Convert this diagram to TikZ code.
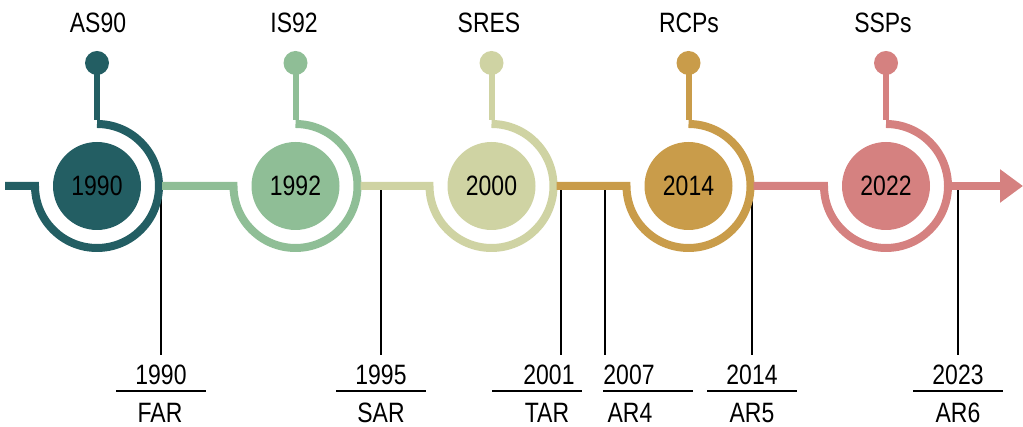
\documentclass[tikz,border=0pt]{standalone}
\usepackage{fontspec}
\setmainfont{Liberation Sans}[FakeStretch=0.82]
\usetikzlibrary{calc,arrows.meta}

\definecolor{stageA}{RGB}{35,94,99}
\definecolor{stageB}{RGB}{143,190,150}
\definecolor{stageC}{RGB}{207,211,163}
\definecolor{stageD}{RGB}{201,156,74}
\definecolor{stageE}{RGB}{213,129,128}

\begin{document}
\begin{tikzpicture}[x=1pt,y=1pt,
  txt/.style={font=\fontsize{28}{30}\selectfont, inner sep=0pt, text=black},
  disc/.style={circle, minimum size=88pt, inner sep=0pt, draw=none,
               font=\fontsize{28}{30}\selectfont, text=black},
  pin/.style={circle, minimum size=24pt, inner sep=0pt, draw=none},
  track/.style={line width=8pt},
  stem/.style={line width=6pt},
  tick/.style={line width=2pt, black},
]
\useasboundingbox (0,0) rectangle (1023,427);

% report ticks, years and names (drawn first, behind the track)
\foreach \k/\x/\ya/\yx/\na/\nx/\ra/\rb/\yr/\rep in {
    1/161/161/161/160/160/116/206/1990/FAR,
    2/381/381/381/381/381/336/426/1995/SAR,
    3/561/549/549/547/547/492/582/2001/TAR,
    4/605/629/629/630/630/603/693/2007/AR4,
    5/752/752/752/752/752/707/797/2014/AR5,
    6/958/958/958/958/958/913/1003/2023/AR6}{
  \coordinate (k\k) at (\x,237);
  \coordinate (kb\k) at (\x,72);
  \draw[tick] (k\k) -- (kb\k);
  \node[txt, anchor=base] (yr\k) at (\ya,42) {\yr};
  \coordinate (rl\k) at (\ra,36);
  \coordinate (rr\k) at (\rb,36);
  \draw[tick] (rl\k) -- (rr\k);
  \node[txt, anchor=base] (rp\k) at (\na,4) {\rep};
}

% stages along the timeline
\coordinate (s1) at (5,241);
\foreach \i/\x/\col/\yr/\lab/\lx [count=\n] in {
    1/97/stageA/1990/AS90/98,
    2/295.5/stageB/1992/IS92/294,
    3/491.5/stageC/2000/SRES/489,
    4/688.5/stageD/2014/RCPs/689,
    5/886/stageE/2022/SSPs/883}{
  \ifnum\i>1
    \pgfmathtruncatemacro\j{\i-1}
    \coordinate (s\i) at ($(d\j.center)+(65,0)$);
  \fi
  \node[disc, fill=\col] (d\i) at (\x,241) {\yr};
  \node[pin, fill=\col] (p\i) at (\x,364) {};
  \node[txt, anchor=base] (t\i) at (\lx,394) {\lab};
  \draw[track, \col] (s\i) -- ($(d\i.center)+(-62,0)$)
    arc[start angle=180, end angle=450, radius=62pt];
  \draw[stem, \col] ($(d\i.center)+(0,66)$) -- (p\i.center);
}

% arrow leaving the last stage
\coordinate (aend) at (1023,241);
\draw[track, stageE, -{Triangle[length=23pt,width=32pt]}]
  ($(d5.center)+(65,0)$) -- (aend);
\end{tikzpicture}
\end{document}
